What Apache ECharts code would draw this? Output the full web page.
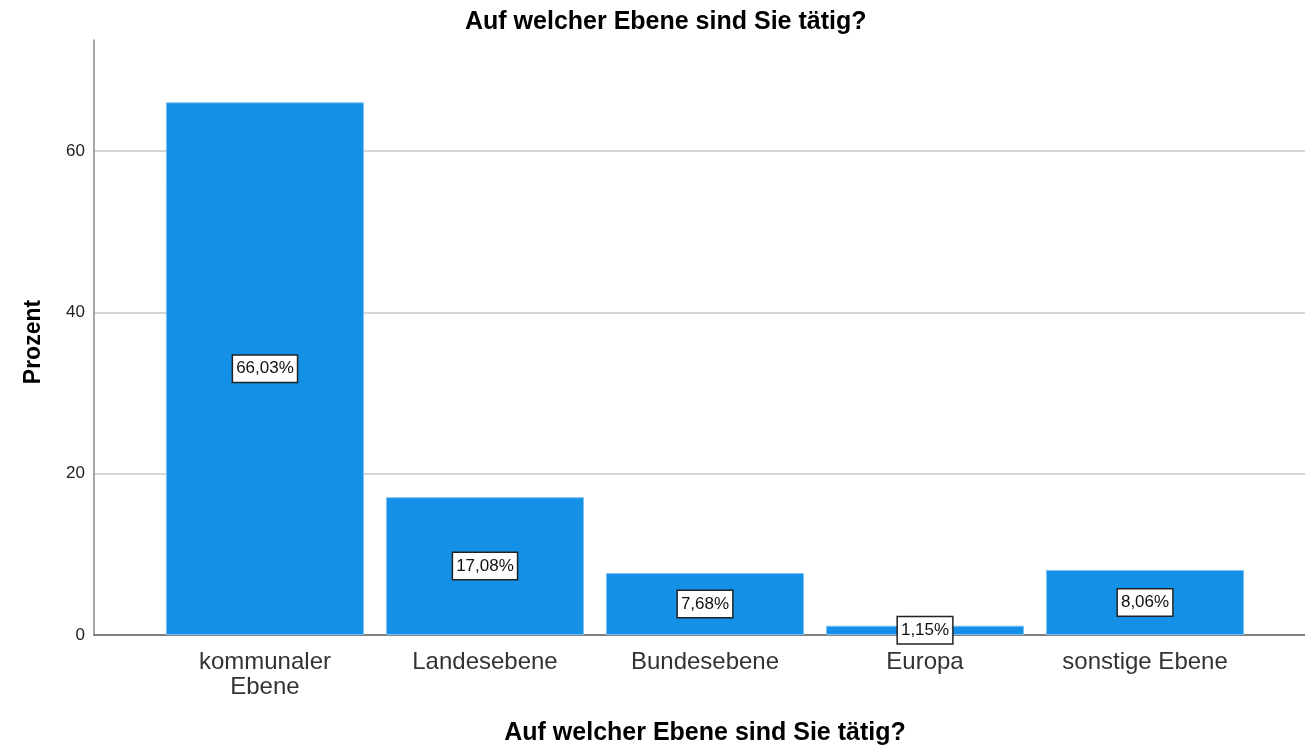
<!DOCTYPE html>
<html>
<head>
<meta charset="utf-8">
<script src="https://cdn.jsdelivr.net/npm/echarts@6/dist/echarts.min.js"></script>
<style>
html,body{margin:0;padding:0;background:#fff;}
#chart{width:1305px;height:752px;}
</style>
</head>
<body>
<div id="chart"></div>
<script>
// ---- data ----
const chartTitle = 'Auf welcher Ebene sind Sie tätig?';
const xAxisTitle = 'Auf welcher Ebene sind Sie tätig?';
const yAxisTitle = 'Prozent';
const categories = ['kommunaler\nEbene', 'Landesebene', 'Bundesebene', 'Europa', 'sonstige Ebene'];
const percentValues = [66.03, 17.08, 7.68, 1.15, 8.06];
const yTickMax = 60;
const yTickStep = 20;
const yAxisTop = 73.76;

const FONT = 'Liberation Sans, Arial, sans-serif';
const chart = echarts.init(document.getElementById('chart'), null, {renderer: 'canvas'});

const barData = percentValues.map((v, i) => [i, v]);

const option = {
  animation: false,
  backgroundColor: '#ffffff',
  textStyle: {fontFamily: FONT},
  title: {
    text: chartTitle,
    left: 460,
    top: 5,
    textStyle: {fontFamily: FONT, fontSize: 25, fontWeight: 'bold', color: '#000'}
  },
  grid: [
    {left: 94, right: 0, top: 40, bottom: 117, containLabel: false},
    {left: 94, right: 0, top: 151, bottom: 117, containLabel: false}
  ],
  xAxis: [
    {
      type: 'value',
      gridIndex: 0,
      min: -0.777,
      max: 4.727,
      name: xAxisTitle,
      nameLocation: 'middle',
      nameGap: 86,
      nameTextStyle: {fontFamily: FONT, fontSize: 25, fontWeight: 'bold', color: '#000', padding: [0, 0, 0, 11]},
      axisLine: {show: true, onZero: false, lineStyle: {color: '#666', width: 1.5}},
      axisTick: {show: false},
      splitLine: {show: false},
      axisLabel: {
        customValues: [0, 1, 2, 3, 4],
        formatter: function (v) { return categories[Math.round(v)]; },
        fontFamily: FONT,
        fontSize: 24,
        lineHeight: 25,
        color: '#333',
        margin: 15,
        verticalAlign: 'top'
      }
    },
    {
      type: 'value',
      gridIndex: 1,
      min: 0,
      max: 1,
      show: false
    }
  ],
  yAxis: [
    {
      type: 'value',
      gridIndex: 0,
      min: 0,
      max: yAxisTop,
      name: yAxisTitle,
      nameLocation: 'middle',
      nameGap: 49,
      nameRotate: 90,
      nameTextStyle: {fontFamily: FONT, fontSize: 23, fontWeight: 'bold', color: '#000', padding: [0, 9, 0, 0]},
      axisLine: {show: true, onZero: false, lineStyle: {color: '#888', width: 1.5}},
      axisTick: {show: false},
      axisLabel: {show: false},
      splitLine: {show: false}
    },
    {
      type: 'value',
      gridIndex: 1,
      min: 0,
      max: yTickMax,
      interval: yTickStep,
      axisLine: {show: false},
      axisTick: {show: false},
      axisLabel: {
        fontFamily: FONT,
        fontSize: 17,
        color: '#222',
        margin: 9,
        padding: [6, 0, 0, 0]
      },
      splitLine: {show: true, lineStyle: {color: '#c8c8c8', width: 1.5}}
    }
  ],
  series: [
    {
      type: 'bar',
      xAxisIndex: 0,
      yAxisIndex: 0,
      data: barData,
      barWidth: 198,
      z: 3,
      itemStyle: {color: '#1490e6', borderColor: '#7cc0f2', borderWidth: 1},
      label: {
        show: true,
        position: 'inside',
        formatter: function (p) { return p.value[1].toFixed(2).replace('.', ',') + '%'; },
        fontFamily: FONT,
        fontSize: 17,
        color: '#111',
        backgroundColor: '#ffffff',
        borderColor: '#222',
        borderWidth: 1.5,
        padding: [5, 3, 4, 3]
      }
    }
  ]
};
chart.setOption(option);
</script>
</body>
</html>
